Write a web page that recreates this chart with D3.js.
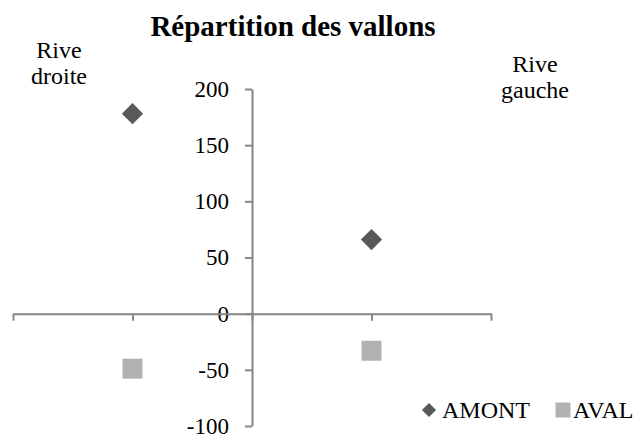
<!DOCTYPE html>
<html>
<head>
<meta charset="utf-8">
<script src="https://cdn.jsdelivr.net/npm/d3@7"></script>
<style>
  body { margin: 0; background: #fff; }
</style>
</head>
<body>
<svg id="chart" width="640" height="441"></svg>
<script>
// data
const categories = ["Rive droite", "Rive gauche"]
const xValues = [-1, 1]
const amont = [178, 66]
const aval = [-49, -33]
const seriesNames = ["AMONT", "AVAL"]
const yTicks = [-100, -50, 0, 50, 100, 150, 200]
const xTicks = [-2, -1, 0, 1, 2]

const svg = d3.select("#chart")
const axisColor = "#868686"
const serif = "'Liberation Serif', 'Times New Roman', serif"

let x = d3.scaleLinear().domain([-2, 2]).range([13, 491])
let y = d3.scaleLinear().domain([-100, 200]).range([426, 89])

// title
svg.append("text")
  .attr("x", 293).attr("y", 36)
  .attr("text-anchor", "middle")
  .style("font-family", serif)
  .style("font-size", "29px").style("font-weight", "bold")
  .text("Répartition des vallons")

// y axis (through x = 0)
let yAxis = svg.append("g")
  .attr("transform", `translate(${x(0)},0)`)
  .call(d3.axisLeft(y).tickValues(yTicks).tickFormat(d => String(d))
    .tickSize(7).tickPadding(16).tickSizeOuter(0))
yAxis.select(".domain").attr("stroke", axisColor).attr("stroke-width", 2)
yAxis.selectAll(".tick line").attr("stroke", axisColor).attr("stroke-width", 2)
yAxis.selectAll(".tick text")
  .style("font-size", "23px").attr("fill", "#000")
  .style("font-family", serif)

// x axis (through y = 0), no labels
let xAxis = svg.append("g")
  .attr("transform", `translate(0,${y(0)})`)
  .call(d3.axisBottom(x).tickValues(xTicks).tickSize(7).tickSizeOuter(0).tickFormat(""))
xAxis.select(".domain").attr("stroke", axisColor).attr("stroke-width", 2)
xAxis.selectAll(".tick line").attr("stroke", axisColor).attr("stroke-width", 2)

// side labels
const sideLabels = [
  {lines: ["Rive", "droite"], x: 59, y: 58},
  {lines: ["Rive", "gauche"], x: 535, y: 72}
]
sideLabels.forEach(l => {
  let t = svg.append("text")
    .attr("x", l.x).attr("y", l.y)
    .attr("text-anchor", "middle")
    .style("font-family", serif)
    .style("font-size", "24px")
  l.lines.forEach((s, i) => {
    t.append("tspan").attr("x", l.x).attr("dy", i === 0 ? 0 : 26).text(s)
  })
})

// points
const diamond = d3.symbol(d3.symbolSquare, 225)
const square = d3.symbol(d3.symbolSquare, 400)

svg.append("g").selectAll("path")
  .data(xValues.map((d, i) => ({x: d, y: amont[i]})))
  .enter().append("path")
  .attr("d", diamond)
  .attr("fill", "#595959")
  .attr("transform", d => `translate(${x(d.x)},${y(d.y)}) rotate(45)`)

svg.append("g").selectAll("path")
  .data(xValues.map((d, i) => ({x: d, y: aval[i]})))
  .enter().append("path")
  .attr("d", square)
  .attr("fill", "#b2b2b2")
  .attr("transform", d => `translate(${x(d.x)},${y(d.y)})`)

// legend
let legend = svg.append("g")
legend.append("path")
  .attr("d", d3.symbol(d3.symbolSquare, 100))
  .attr("fill", "#595959")
  .attr("transform", "translate(429,410) rotate(45)")
legend.append("text").attr("x", 442).attr("y", 418)
  .style("font-family", serif)
  .style("font-size", "24px").text(seriesNames[0])
legend.append("path")
  .attr("d", d3.symbol(d3.symbolSquare, 225))
  .attr("fill", "#b2b2b2")
  .attr("transform", "translate(563,410)")
legend.append("text").attr("x", 573).attr("y", 418)
  .style("font-family", serif)
  .style("font-size", "24px").text(seriesNames[1])
</script>
</body>
</html>
